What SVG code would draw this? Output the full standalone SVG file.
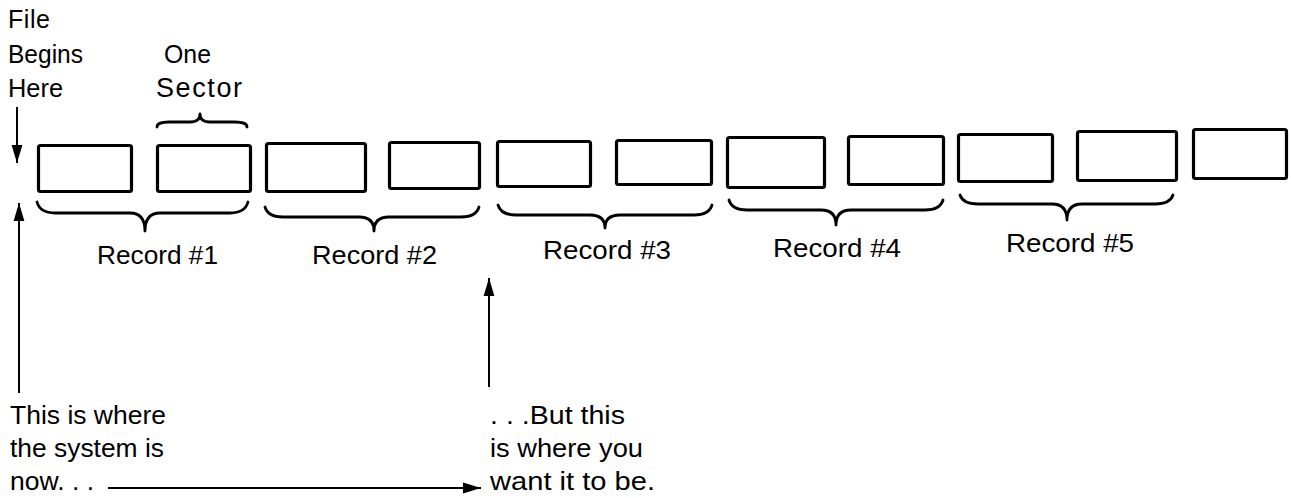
<svg xmlns="http://www.w3.org/2000/svg" width="1291" height="498" viewBox="0 0 1291 498">
  <style>
    .box { fill: #fff; stroke: #000; stroke-width: 3.2; }
    .brace { fill: none; stroke: #000; stroke-width: 2.8; stroke-linejoin: round; stroke-linecap: round; }
    .ln { fill: none; stroke: #000; stroke-width: 2; }
    .t { font-family: "Liberation Sans", Arial, sans-serif; font-size: 25px; fill: #000; }
    .r { font-family: "Liberation Sans", Arial, sans-serif; font-size: 26px; fill: #000; }
  </style>
  <defs>
    <marker id="ah" viewBox="0 0 20 12" refX="20" refY="6" markerWidth="18" markerHeight="12" markerUnits="userSpaceOnUse" orient="auto">
      <path d="M0,0 L20,6 L0,12 Z" fill="#000"/>
    </marker>
  </defs>
  <rect width="1291" height="498" fill="#fff"/>

  <g id="labels-top">
    <text class="t" x="8" y="28" textLength="42">File</text>
    <text class="t" x="8" y="63" textLength="75" lengthAdjust="spacingAndGlyphs">Begins</text>
    <text class="t" x="8" y="97" textLength="55" lengthAdjust="spacingAndGlyphs">Here</text>
    <text class="t" x="164" y="63" textLength="47" lengthAdjust="spacingAndGlyphs">One</text>
    <text class="t" x="156" y="97" style="font-size:27px" textLength="86">Sector</text>
  </g>

  <g id="sector-brace">
    <path class="brace" d="M157,127 Q157,122 169,122 L190,122 Q200,122 200,114 Q200,122 210,122 L235,122 Q247,122 247,127"/>
  </g>

  <g id="sectors">
    <rect id="s1" class="box" x="38.5" y="145.5" width="93" height="46" rx="2"/>
    <rect id="s2" class="box" x="157.5" y="145.5" width="93" height="46" rx="2"/>
    <rect id="s3" class="box" x="266.5" y="143.5" width="99" height="48" rx="2"/>
    <rect id="s4" class="box" x="389.5" y="142.5" width="90" height="46" rx="2"/>
    <rect id="s5" class="box" x="497.5" y="141.5" width="93" height="45" rx="2"/>
    <rect id="s6" class="box" x="616.5" y="140.5" width="95" height="44" rx="2"/>
    <rect id="s7" class="box" x="727.5" y="137.5" width="97" height="50" rx="2"/>
    <rect id="s8" class="box" x="848.5" y="136.5" width="95" height="48" rx="2"/>
    <rect id="s9" class="box" x="958.5" y="134.5" width="94" height="47" rx="2"/>
    <rect id="s10" class="box" x="1077.5" y="131.5" width="99" height="49" rx="2"/>
    <rect id="s11" class="box" x="1193.5" y="129.5" width="93" height="49" rx="2"/>
  </g>

  <g id="record1">
    <path class="brace" d="M37,202 Q40,213 55,213 L130,213 Q145,213 145,231 Q145,213 160,213 L230,213 Q245,213 248,202"/>
    <text class="r" x="97" y="264" textLength="121" lengthAdjust="spacingAndGlyphs">Record #1</text>
  </g>
  <g id="record2">
    <path class="brace" d="M265,207 Q268,217 283,217 L359,217 Q374,217 374,231 Q374,217 389,217 L461,217 Q476,217 479,207"/>
    <text class="r" x="312" y="264" textLength="125" lengthAdjust="spacingAndGlyphs">Record #2</text>
  </g>
  <g id="record3">
    <path class="brace" d="M498,205 Q501,215 516,215 L590,215 Q605,215 605,228 Q605,215 620,215 L694,215 Q709,215 712,205"/>
    <text class="r" x="543" y="259" textLength="128" lengthAdjust="spacingAndGlyphs">Record #3</text>
  </g>
  <g id="record4">
    <path class="brace" d="M729,200 Q732,210 747,210 L821,210 Q836,210 836,225 Q836,210 851,210 L925,210 Q940,210 943,200"/>
    <text class="r" x="773" y="257" textLength="128" lengthAdjust="spacingAndGlyphs">Record #4</text>
  </g>
  <g id="record5">
    <path class="brace" d="M960,195 Q963,204 978,204 L1052,204 Q1067,204 1067,220 Q1067,204 1082,204 L1155,204 Q1170,204 1173,195"/>
    <text class="r" x="1006" y="252" textLength="128" lengthAdjust="spacingAndGlyphs">Record #5</text>
  </g>

  <g id="labels-bottom">
    <text class="t" x="10" y="424" textLength="156" lengthAdjust="spacingAndGlyphs">This is where</text>
    <text class="t" x="10" y="457" textLength="154" lengthAdjust="spacingAndGlyphs">the system is</text>
    <text class="t" x="10" y="490" textLength="84" lengthAdjust="spacingAndGlyphs">now. . .</text>
    <text class="t" x="490" y="424" textLength="135" lengthAdjust="spacingAndGlyphs">. . .But this</text>
    <text class="t" x="490" y="457" textLength="153" lengthAdjust="spacingAndGlyphs">is where you</text>
    <text class="t" x="490" y="490" textLength="165" lengthAdjust="spacingAndGlyphs">want it to be.</text>
  </g>

  <g id="connectors">
    <line class="ln" x1="17" y1="107" x2="17" y2="163" marker-end="url(#ah)"/>
    <line class="ln" x1="19" y1="393" x2="19" y2="203" marker-end="url(#ah)"/>
    <line class="ln" x1="489" y1="387" x2="489" y2="278" marker-end="url(#ah)"/>
    <line class="ln" x1="108" y1="488" x2="481" y2="488" marker-end="url(#ah)"/>
  </g>
</svg>
